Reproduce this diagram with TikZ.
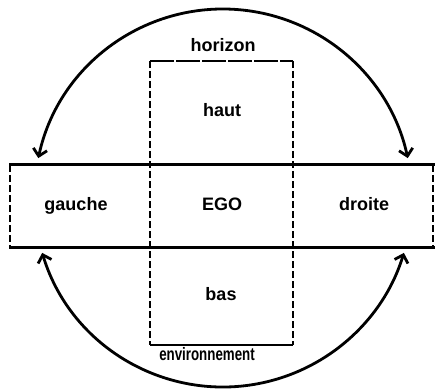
\documentclass[tikz,border=0pt]{standalone}
\usepackage{fontspec}
\setmainfont{Liberation Sans}
\usetikzlibrary{arrows.meta}
\begin{document}
\begin{tikzpicture}[x=1pt,y=1pt,
  region/.style={inner sep=0pt, outer sep=0pt},
  solidedge/.style={line width=3pt, line cap=rect},
  dashedge/.style={line width=2.6pt, dash pattern=on 7pt off 3pt},
  topedge/.style={line width=2.6pt, dash pattern=on 24pt off 2pt},
  swing/.style={line width=2.8pt, {Straight Barb[length=7pt,width=14pt]}-{Straight Barb[length=7pt,width=14pt]}},
  lbl/.style={font=\bfseries\fontsize{18}{20}\selectfont, anchor=base, inner sep=0pt}]
\useasboundingbox (0,0) rectangle (435,391);
% regions
\node[region, minimum width=423pt, minimum height=82pt] (band) at (221.5,185) {};
\node[region, minimum width=143pt, minimum height=284pt] (vbox) at (221.5,188) {};
% band edges
\draw[solidedge] (band.north west) -- (band.north east);
\draw[solidedge] (band.south west) -- (band.south east);
\draw[dashedge] (band.north west) -- (band.south west);
\draw[dashedge] (band.north east) -- (band.south east);
% vertical box edges
\draw[dashedge] (vbox.north west) -- (vbox.south west);
\draw[dashedge] (vbox.north east) -- (vbox.south east);
\draw[topedge] (vbox.north west) -- (vbox.north east);
\draw[line width=2.6pt] (vbox.south west) -- (vbox.south east);
% labels
\node[lbl] (horizon) at (223,339) {horizon};
\node[lbl] (haut) at (222,274) {haut};
\node[lbl] (gauche) at (76,180.5) {gauche};
\node[lbl] (ego) at (222,180.5) {EGO};
\node[lbl] (droite) at (364,180.5) {droite};
\node[lbl] (bas) at (221,91) {bas};
\node[lbl] (env) at (207,31) {\scalebox{0.74}[1]{environnement}};
% arcs
\coordinate (tl) at (38.3,232.9);
\coordinate (bl) at (42.2,138.1);
\draw[swing] (tl) arc[start angle=167.8, end angle=12.2, radius=189pt];
\draw[swing] (bl) arc[start angle=196.9, end angle=343.1, radius=189pt];
\end{tikzpicture}
\end{document}
